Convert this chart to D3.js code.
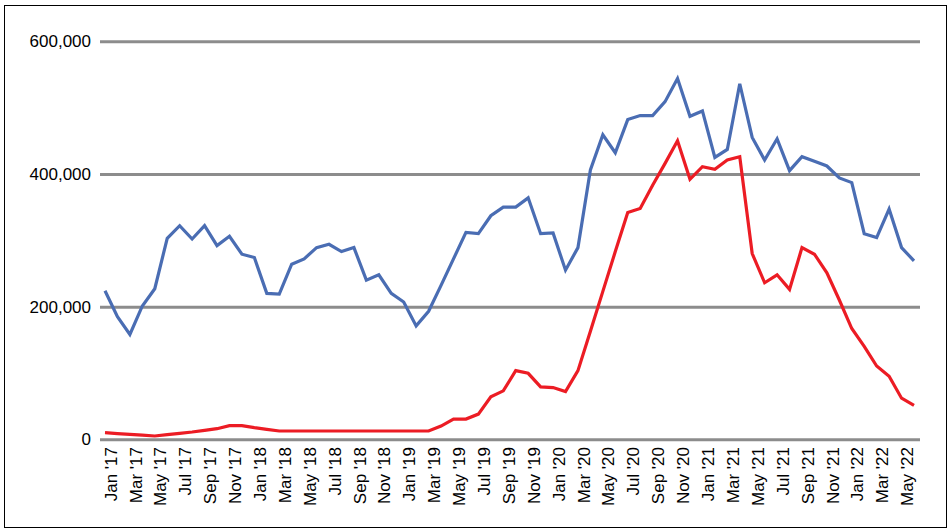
<!DOCTYPE html>
<html>
<head>
<meta charset="utf-8">
<script src="https://cdn.jsdelivr.net/npm/d3@7"></script>
<style>
  body { margin: 0; background: #fff; }
  svg text { font-family: "Liberation Sans", Arial, sans-serif; }
</style>
</head>
<body>
<svg id="chart" width="952" height="532"></svg>
<script>
// months, Jan '17 -> Jun '22
var months = [
  "Jan '17","Feb '17","Mar '17","Apr '17","May '17","Jun '17","Jul '17","Aug '17","Sep '17","Oct '17","Nov '17","Dec '17",
  "Jan '18","Feb '18","Mar '18","Apr '18","May '18","Jun '18","Jul '18","Aug '18","Sep '18","Oct '18","Nov '18","Dec '18",
  "Jan '19","Feb '19","Mar '19","Apr '19","May '19","Jun '19","Jul '19","Aug '19","Sep '19","Oct '19","Nov '19","Dec '19",
  "Jan '20","Feb '20","Mar '20","Apr '20","May '20","Jun '20","Jul '20","Aug '20","Sep '20","Oct '20","Nov '20","Dec '20",
  "Jan '21","Feb '21","Mar '21","Apr '21","May '21","Jun '21","Jul '21","Aug '21","Sep '21","Oct '21","Nov '21","Dec '21",
  "Jan '22","Feb '22","Mar '22","Apr '22","May '22","Jun '22"
];

// blue line
var blueValues = [
  224000,185000,158000,201000,227000,303000,322000,302000,322000,292000,306000,279000,
  274000,220000,219000,264000,272000,289000,294000,283000,289000,240000,248000,220000,
  207000,171000,193000,232000,272000,312000,310000,337000,350000,350000,364000,310000,
  311000,255000,289000,406000,459000,432000,482000,488000,488000,509000,544000,487000,
  495000,425000,437000,536000,455000,421000,453000,405000,426000,419000,412000,394000,
  387000,310000,304000,347000,289000,269000
];

// red line
var redValues = [
  10000,8700,7500,6200,5000,7000,9000,11000,13500,16000,20500,20500,
  17500,15000,12500,12500,12500,12500,12500,12500,12500,12500,12500,12500,
  12500,12500,12500,20000,30500,30500,38000,64000,73000,103500,99500,79000,
  78000,72000,103500,163000,223000,283000,342000,348000,383000,416000,450000,392000,
  411000,407000,421000,426000,280000,236000,248000,226000,289000,279000,251000,210000,
  167000,140000,110500,95000,62000,51000
];

var yTicks = [0, 200000, 400000, 600000];

var svg = d3.select("#chart");

// outer frame
svg.append("rect")
  .attr("x", 4.5).attr("y", 5.5)
  .attr("width", 942).attr("height", 522)
  .attr("fill", "none").attr("stroke", "#000").attr("stroke-width", 1);

var x = d3.scalePoint().domain(d3.range(months.length)).range([105, 914]);
var y = d3.scaleLinear().domain([0, 600000]).range([439.3, 41.3]);

// gridlines + y labels
var yAxis = d3.axisLeft(y).tickValues(yTicks).tickSize(-820).tickPadding(9)
  .tickFormat(d3.format(","));
var gy = svg.append("g").attr("transform", "translate(100,0)").call(yAxis);
gy.select(".domain").remove();
gy.selectAll(".tick line").attr("stroke", "#8c8c8c").attr("stroke-width", 3)
  .attr("x1", 0).attr("x2", 820);
gy.selectAll(".tick text").attr("font-size", 17).attr("fill", "#000");

// x labels, every 2nd month
var xAxis = d3.axisBottom(x)
  .tickValues(d3.range(0, months.length, 2))
  .tickSize(0)
  .tickFormat(function(i) { return months[i]; });
var gx = svg.append("g").attr("transform", "translate(0,447)").call(xAxis);
gx.select(".domain").remove();
gx.selectAll(".tick text")
  .attr("font-size", 17).attr("fill", "#000")
  .attr("text-anchor", "end")
  .attr("transform", "translate(5,0) rotate(-90)")
  .attr("x", 0).attr("y", 0).attr("dy", "0.36em");

var line = d3.line()
  .x(function(d, i) { return x(i); })
  .y(function(d) { return y(d); });

svg.append("path").datum(blueValues)
  .attr("d", line).attr("fill", "none")
  .attr("stroke", "#4a6db3").attr("stroke-width", 3.2)
  .attr("stroke-linejoin", "miter");

svg.append("path").datum(redValues)
  .attr("d", line).attr("fill", "none")
  .attr("stroke", "#ec1c24").attr("stroke-width", 3.2)
  .attr("stroke-linejoin", "miter");
</script>
</body>
</html>
